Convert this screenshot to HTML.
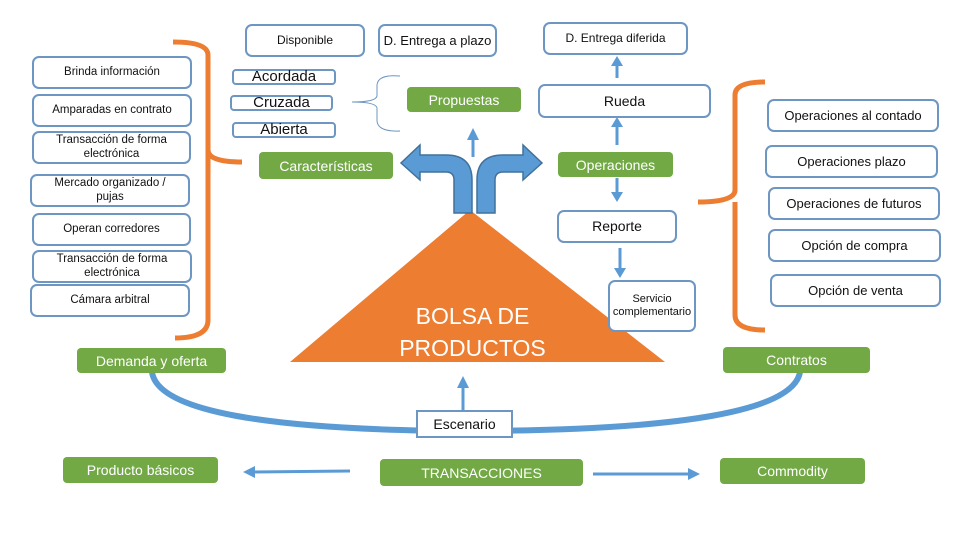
<!DOCTYPE html>
<html><head><meta charset="utf-8"><style>
body{margin:0;width:960px;height:540px;background:#fff;position:relative;overflow:hidden;font-family:"Liberation Sans",sans-serif}
.b{position:absolute;box-sizing:border-box;border:2px solid #6d96c2;border-radius:7px;background:#fff;display:flex;align-items:center;justify-content:center;text-align:center;font-size:12px;color:#111;line-height:1.2}
.s{border-radius:4px;font-size:15px}
.g{position:absolute;box-sizing:border-box;background:#72a945;border-radius:4px;color:#fff;display:flex;align-items:center;justify-content:center;font-size:14px}
</style></head><body>
<svg width="960" height="540" style="position:absolute;left:0;top:0">
<g fill="none" stroke="#ed7d31" stroke-width="5">
<path d="M173,42 Q208,42 208,55 L208,150 Q208,162 242,162 M208,150 L208,320 Q208,338 175,338"/>
<path d="M765,82 Q735,82 735,95 L735,190 Q735,202 698,202 M735,202 L735,315 Q735,330 765,330"/>
</g>
<path d="M400,76 Q378,74 377,85 L377,96 Q376,102 352,102 Q376,102 377,108 L377,121 Q378,132 400,131" fill="none" stroke="#6d96c2" stroke-width="1"/>
<polygon points="470,210 665,362 290,362" fill="#ed7d31"/>
<g fill="#5b9bd5" stroke="#41719c" stroke-width="1.5">
<path d="M454,213 L454,180 Q454,172 446,172 L420,172 L420,180 L401,163 L420,145 L420,155 L446,155 Q472,155 472,180 L472,213 Z"/>
<path d="M495,213 L495,180 Q495,172 503,172 L523,172 L523,180 L542,163 L523,145 L523,155 L503,155 Q477,155 477,180 L477,213 Z"/>
</g>
<g stroke="#5b9bd5" stroke-width="3" fill="#5b9bd5">
<line x1="473" y1="157" x2="473" y2="138"/><polygon points="467,140 479,140 473,128" stroke="none"/>
<line x1="617" y1="78" x2="617" y2="64"/><polygon points="611,66 623,66 617,56" stroke="none"/>
<line x1="617" y1="145" x2="617" y2="125"/><polygon points="611,127 623,127 617,117" stroke="none"/>
<line x1="617" y1="178" x2="617" y2="194"/><polygon points="611,192 623,192 617,202" stroke="none"/>
<line x1="620" y1="248" x2="620" y2="270"/><polygon points="614,268 626,268 620,278" stroke="none"/>
<line x1="463" y1="410" x2="463" y2="386"/><polygon points="457,388 469,388 463,376" stroke="none"/>
<line x1="350" y1="471" x2="253" y2="472"/><polygon points="255,466 255,478 243,472" stroke="none"/>
<line x1="593" y1="474" x2="690" y2="474"/><polygon points="688,468 688,480 700,474" stroke="none"/>
</g>
<path d="M152,372 Q160,430 470,431 Q790,430 800,372" fill="none" stroke="#5b9bd5" stroke-width="6"/>
</svg>
<div class="b" style="left:245px;top:24px;width:120px;height:33px">Disponible</div>
<div class="b" style="left:378px;top:24px;width:119px;height:33px;font-size:13px">D. Entrega a plazo</div>
<div class="b" style="left:543px;top:22px;width:145px;height:33px">D. Entrega diferida</div>
<div class="b" style="left:32px;top:56px;width:160px;height:33px;font-size:11.5px">Brinda información</div>
<div class="b" style="left:32px;top:94px;width:160px;height:33px;font-size:11.5px">Amparadas en contrato</div>
<div class="b" style="left:32px;top:131px;width:159px;height:33px;font-size:11.5px">Transacción de forma<br>electrónica</div>
<div class="b" style="left:30px;top:174px;width:160px;height:33px;font-size:11.5px">Mercado organizado /<br>pujas</div>
<div class="b" style="left:32px;top:213px;width:159px;height:33px;font-size:11.5px">Operan corredores</div>
<div class="b" style="left:32px;top:250px;width:160px;height:33px;font-size:11.5px">Transacción de forma<br>electrónica</div>
<div class="b" style="left:30px;top:284px;width:160px;height:33px;font-size:11.5px">Cámara arbitral</div>
<div class="b s" style="left:232px;top:69px;width:104px;height:16px">Acordada</div>
<div class="b s" style="left:230px;top:95px;width:103px;height:16px">Cruzada</div>
<div class="b s" style="left:232px;top:122px;width:104px;height:16px">Abierta</div>
<div class="g" style="left:407px;top:87px;width:114px;height:25px">Propuestas</div>
<div class="g" style="left:259px;top:152px;width:134px;height:27px">Características</div>
<div class="g" style="left:558px;top:152px;width:115px;height:25px">Operaciones</div>
<div class="b" style="left:538px;top:84px;width:173px;height:34px;font-size:14px">Rueda</div>
<div class="b" style="left:557px;top:210px;width:120px;height:33px;font-size:14px">Reporte</div>
<div class="b" style="left:608px;top:280px;width:88px;height:52px;font-size:11px">Servicio complementario</div>
<div class="b" style="left:767px;top:99px;width:172px;height:33px;font-size:13px">Operaciones al contado</div>
<div class="b" style="left:765px;top:145px;width:173px;height:33px;font-size:13px">Operaciones plazo</div>
<div class="b" style="left:768px;top:187px;width:172px;height:33px;font-size:13px">Operaciones de futuros</div>
<div class="b" style="left:768px;top:229px;width:173px;height:33px;font-size:13px">Opción de compra</div>
<div class="b" style="left:770px;top:274px;width:171px;height:33px;font-size:13px">Opción de venta</div>
<div style="position:absolute;left:380px;top:300px;width:185px;text-align:center;color:#fff;font-size:23px;line-height:32px">BOLSA DE PRODUCTOS</div>
<div class="g" style="left:77px;top:348px;width:149px;height:25px">Demanda y oferta</div>
<div class="g" style="left:723px;top:347px;width:147px;height:26px">Contratos</div>
<div class="b" style="left:416px;top:410px;width:97px;height:28px;border-radius:0;font-size:14px">Escenario</div>
<div class="g" style="left:63px;top:457px;width:155px;height:26px">Producto  básicos</div>
<div class="g" style="left:380px;top:459px;width:203px;height:27px">TRANSACCIONES</div>
<div class="g" style="left:720px;top:458px;width:145px;height:26px">Commodity</div>
</body></html>
